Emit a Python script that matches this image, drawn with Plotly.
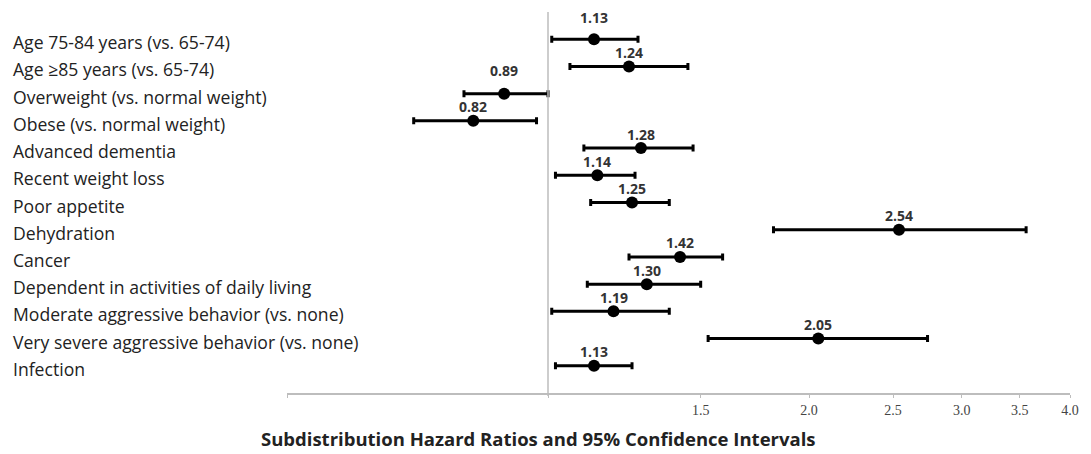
import math
import plotly.graph_objects as go

factors = [
    "Age 75-84 years (vs. 65-74)",
    "Age ≥85 years (vs. 65-74)",
    "Overweight (vs. normal weight)",
    "Obese (vs. normal weight)",
    "Advanced dementia",
    "Recent weight loss",
    "Poor appetite",
    "Dehydration",
    "Cancer",
    "Dependent in activities of daily living",
    "Moderate aggressive behavior (vs. none)",
    "Very severe aggressive behavior (vs. none)",
    "Infection",
]
shr = [1.13, 1.24, 0.89, 0.82, 1.28, 1.14, 1.25, 2.54, 1.42, 1.30, 1.19, 2.05, 1.13]
ci_low = [1.01, 1.06, 0.80, 0.70, 1.10, 1.02, 1.12, 1.82, 1.24, 1.11, 1.01, 1.53, 1.02]
ci_high = [1.27, 1.45, 1.00, 0.97, 1.47, 1.26, 1.38, 3.56, 1.59, 1.50, 1.38, 2.74, 1.25]
tick_vals = [0.5, 1.0, 1.5, 2.0, 2.5, 3.0, 3.5, 4.0]
tick_text = ["", "", "1.5", "2.0", "2.5", "3.0", "3.5", "4.0"]
x_title = "Subdistribution Hazard Ratios and 95% Confidence Intervals"

rows = list(range(len(factors)))
err_plus = [h - v for h, v in zip(ci_high, shr)]
err_minus = [v - l for v, l in zip(shr, ci_low)]

fig = go.Figure()
fig.add_trace(go.Scatter(
    x=shr, y=rows, mode="markers",
    marker=dict(color="black", size=12),
    error_x=dict(type="data", symmetric=False, array=err_plus, arrayminus=err_minus,
                 color="black", thickness=3, width=3.5),
    showlegend=False, hoverinfo="skip",
))

# reference line at 1.0
fig.add_shape(type="line", xref="x", yref="paper", x0=1, x1=1, y0=-0.008, y1=1,
              line=dict(color="#bdbdbd", width=1.5))

label_lift = {0: 22, 2: 23}
for i, (f, v) in enumerate(zip(factors, shr)):
    fig.add_annotation(x=(8 - 287) / 791, xref="paper", y=i, yref="y", text=f,
                       showarrow=False, xanchor="left", yanchor="middle", yshift=-3,
                       font=dict(family="Open Sans", size=17.6, color="#222222"))
    fig.add_annotation(x=math.log10(v), y=i, xref="x", yref="y", text=f"<b>{v:.2f}</b>",
                       showarrow=False, xanchor="center", yanchor="middle",
                       yshift=label_lift.get(i, 14),
                       font=dict(family="Open Sans", size=14, color="#333333"))

fig.add_annotation(x=(541 - 287) / 791, xref="paper", y=0, yref="paper", yshift=-45,
                   text=f"<b>{x_title}</b>", showarrow=False,
                   xanchor="center", yanchor="middle",
                   font=dict(family="Open Sans", size=18.5, color="#222222"))

fig.update_xaxes(type="log", range=[-0.30103, 0.60206], tickvals=tick_vals, ticktext=tick_text,
                 showgrid=False, zeroline=False, showline=True, linecolor="#bdbdbd", linewidth=1.5,
                 ticks="outside", ticklen=3, tickcolor="#bdbdbd", tickwidth=1,
                 tickfont=dict(family="Liberation Serif", size=14, color="#444444"))
fig.update_yaxes(range=[len(factors), -1], visible=False, showgrid=False, zeroline=False)

fig.update_layout(width=1091, height=454, margin=dict(l=287, r=13, t=12, b=61),
                  plot_bgcolor="white", paper_bgcolor="white")

fig.write_html("out.html")
